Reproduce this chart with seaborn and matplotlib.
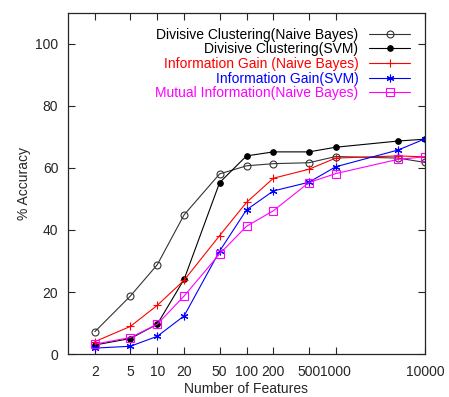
# Accuracy vs number of features for the feature selection methods

import matplotlib
matplotlib.use("Agg")
import matplotlib.pyplot as plt
import seaborn as sns

features = [2, 5, 10, 20, 50, 100, 200, 500, 1000, 5000, 10000]

div_nb = [7.2, 18.7, 28.8, 44.9, 58.1, 60.7, 61.4, 61.7, 63.7, 63.2, 61.8]
div_svm = [2.9, 5.0, 9.6, 24.1, 55.3, 63.9, 65.2, 65.2, 66.7, 68.7, 69.3]
ig_nb = [4.0, 8.9, 15.7, 23.8, 38.2, 48.9, 56.7, 59.6, 63.2, 63.9, 63.6]
ig_svm = [1.9, 2.5, 5.7, 12.3, 33.2, 46.5, 52.6, 55.4, 60.4, 65.8, 69.4]
mi_nb = [3.2, 5.3, 9.6, 18.7, 32.3, 41.2, 46.2, 55.3, 58.2, 62.8, 63.6]

tick_vals = [2, 5, 10, 20, 50, 100, 200, 500, 1000, 10000]

sns.set_style("ticks")
plt.rcParams['font.family'] = ['Liberation Sans', 'DejaVu Sans']
plt.rcParams['xtick.direction'] = 'in'
plt.rcParams['ytick.direction'] = 'in'
plt.rcParams['xtick.top'] = True
plt.rcParams['ytick.right'] = True

fig = plt.figure(figsize=(4.49, 3.97), dpi=100)
ax = fig.add_axes([68 / 449, 43 / 397, 357 / 449, 341 / 397])

series = [
    ("Divisive Clustering(Naive Bayes)", div_nb, "#333333", dict(marker='o', markerfacecolor='none', markersize=5)),
    ("Divisive Clustering(SVM)", div_svm, "black", dict(marker='o', markersize=4)),
    ("Information Gain (Naive Bayes)", ig_nb, "red", dict(marker='+', markersize=6)),
    ("Information Gain(SVM)", ig_svm, "blue", dict(marker=(6, 2, 0), markersize=5.5)),
    ("Mutual Information(Naive Bayes)", mi_nb, "magenta", dict(marker='s', markerfacecolor='none', markersize=5.5)),
]
text_colors = ["black", "black", "red", "blue", "magenta"]

for name, vals, color, mk in series:
    sns.lineplot(x=features, y=vals, ax=ax, color=color, label=name,
                 linewidth=0.8, markeredgecolor=color, markeredgewidth=0.8, **mk)

ax.set_xscale('log')
ax.set_xlim(1, 10000)
ax.set_ylim(0, 110)
ax.set_xticks(tick_vals)
ax.set_xticklabels([str(v) for v in tick_vals])
ax.minorticks_off()
ax.set_yticks([0, 20, 40, 60, 80, 100])
ax.tick_params(labelsize=10, length=5, width=0.8)
ax.tick_params(axis='x', pad=8)
ax.tick_params(axis='y', pad=7)
for s in ax.spines.values():
    s.set_linewidth(0.9)
ax.set_xlabel("Number of Features", fontsize=10, labelpad=2)
ax.set_ylabel("% Accuracy", fontsize=10, labelpad=3)

leg = ax.legend(loc='upper right', frameon=False, markerfirst=False, fontsize=10,
                handlelength=2.95, labelspacing=0.05,
                handletextpad=0.8, borderaxespad=0.75, borderpad=0.3)
for t, c in zip(leg.get_texts(), text_colors):
    t.set_color(c)

plt.savefig("out.png", dpi=100)
plt.close()
